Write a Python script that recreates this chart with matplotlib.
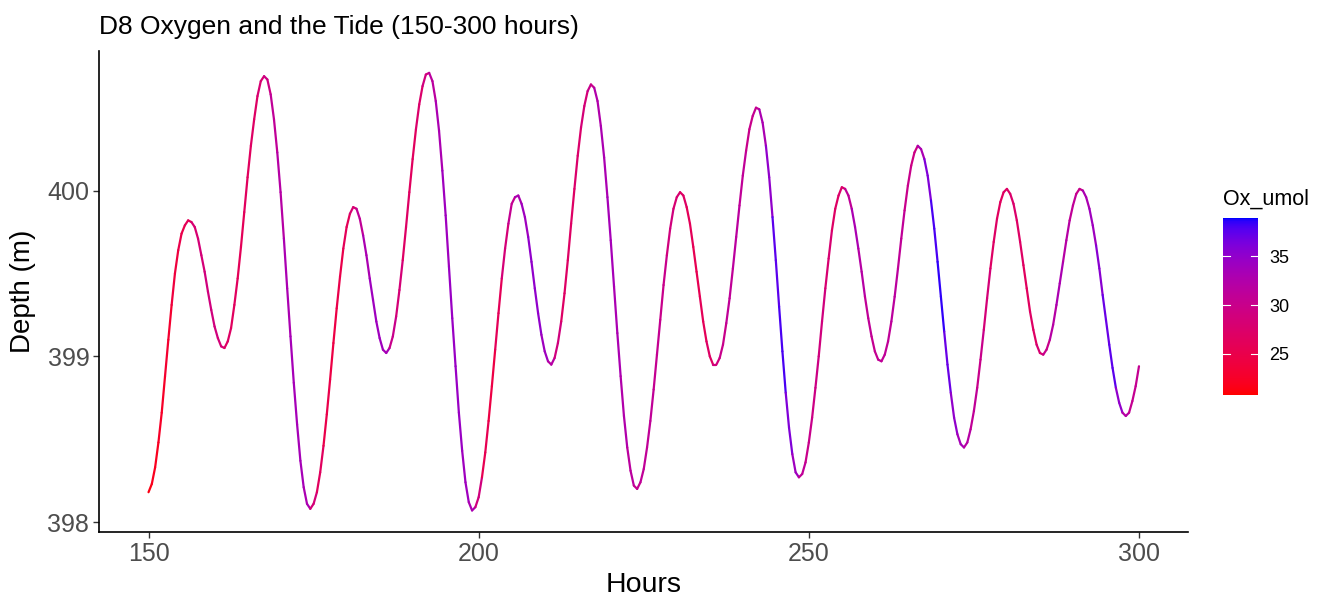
import matplotlib
matplotlib.use("Agg")
import matplotlib.pyplot as plt
import numpy as np
from matplotlib.collections import LineCollection
from matplotlib.colors import ListedColormap, Normalize
from matplotlib.cm import ScalarMappable

plt.rcParams['font.family'] = ['Liberation Sans', 'DejaVu Sans']

# DATA

# depth every half hour, 150.0 ... 300.0 (two values per row: h, h+0.5)
hours = [150 + 0.5 * i for i in range(301)]

depth_m = [
    398.18, 398.23,  398.33, 398.48,  398.66, 398.88,  399.10, 399.31,  # 150-153
    399.50, 399.64,  399.74, 399.79,  399.82, 399.81,  399.78, 399.71,  # 154-157
    399.61, 399.51,  399.39, 399.28,  399.18, 399.11,  399.06, 399.05,  # 158-161
    399.09, 399.17,  399.31, 399.47,  399.66, 399.87,  400.08, 400.27,  # 162-165
    400.43, 400.57,  400.66, 400.69,  400.67, 400.58,  400.43, 400.23,  # 166-169
    399.99, 399.71,  399.41, 399.12,  398.84, 398.59,  398.37, 398.21,  # 170-173
    398.11, 398.08,  398.11, 398.18,  398.30, 398.46,  398.65, 398.86,  # 174-177
    399.08, 399.29,  399.48, 399.65,  399.78, 399.86,  399.90, 399.89,  # 178-181
    399.83, 399.73,  399.61, 399.47,  399.34, 399.21,  399.11, 399.04,  # 182-185
    399.02, 399.05,  399.12, 399.24,  399.40, 399.58,  399.78, 399.99,  # 186-189
    400.19, 400.37,  400.52, 400.63,  400.70, 400.71,  400.66, 400.54,  # 190-193
    400.36, 400.12,  399.85, 399.54,  399.23, 398.94,  398.66, 398.43,  # 194-197
    398.24, 398.12,  398.07, 398.09,  398.15, 398.27,  398.42, 398.61,  # 198-201
    398.82, 399.04,  399.26, 399.47,  399.65, 399.80,  399.92, 399.96,  # 202-205
    399.97, 399.92,  399.84, 399.72,  399.57, 399.41,  399.26, 399.13,  # 206-209
    399.03, 398.97,  398.95, 398.99,  399.08, 399.21,  399.38, 399.58,  # 210-213
    399.80, 400.01,  400.21, 400.38,  400.51, 400.60,  400.64, 400.62,  # 214-217
    400.54, 400.39,  400.20, 399.96,  399.70, 399.42,  399.14, 398.88,  # 218-221
    398.64, 398.45,  398.31, 398.22,  398.20, 398.24,  398.32, 398.45,  # 222-225
    398.61, 398.80,  399.01, 399.22,  399.43, 399.61,  399.77, 399.89,  # 226-229
    399.96, 399.99,  399.97, 399.90,  399.80, 399.66,  399.51, 399.36,  # 230-233
    399.21, 399.09,  399.00, 398.95,  398.95, 398.99,  399.07, 399.20,  # 234-237
    399.35, 399.53,  399.72, 399.91,  400.09, 400.24,  400.37, 400.45,  # 238-241
    400.50, 400.49,  400.41, 400.27,  400.08, 399.84,  399.58, 399.30,  # 242-245
    399.03, 398.78,  398.57, 398.41,  398.30, 398.27,  398.29, 398.36,  # 246-249
    398.48, 398.63,  398.81, 399.00,  399.21, 399.41,  399.59, 399.76,  # 250-253
    399.89, 399.97,  400.02, 400.01,  399.97, 399.89,  399.78, 399.65,  # 254-257
    399.51, 399.36,  399.23, 399.12,  399.03, 398.98,  398.97, 399.01,  # 258-261
    399.09, 399.21,  399.36, 399.53,  399.71, 399.88,  400.03, 400.15,  # 262-265
    400.23, 400.27,  400.25, 400.19,  400.09, 399.94,  399.77, 399.57,  # 266-269
    399.36, 399.15,  398.95, 398.78,  398.63, 398.53,  398.47, 398.45,  # 270-273
    398.48, 398.56,  398.67, 398.81,  398.98, 399.16,  399.35, 399.53,  # 274-277
    399.69, 399.83,  399.93, 399.99,  400.01, 399.98,  399.92, 399.82,  # 278-281
    399.69, 399.55,  399.41, 399.27,  399.16, 399.07,  399.02, 399.01,  # 282-285
    399.04, 399.10,  399.19, 399.31,  399.44, 399.57,  399.70, 399.82,  # 286-289
    399.91, 399.98,  400.01, 400.00,  399.96, 399.89,  399.79, 399.67,  # 290-293
    399.53, 399.37,  399.22, 399.07,  398.93, 398.81,  398.72, 398.66,  # 294-297
    398.64, 398.66,  398.73, 398.82,  398.94,                           # 298-300
]

# oxygen, one value per hour 150 ... 300
ox_hours = list(range(150, 301))
ox_umol = [
    21.5, 22.0, 22.5, 23.0, 24.0, 25.0, 26.0,          # 150-156
    28.0, 28.5, 29.0, 29.0, 28.5,                      # 157-161
    27.0, 26.5, 26.0, 26.5, 27.0, 28.0,                # 162-167
    29.5, 31.0, 32.0, 33.0, 33.5, 33.5, 33.0,          # 168-174
    28.5, 26.5, 25.0, 24.5, 25.0, 26.0, 28.0,          # 175-181
    31.0, 33.0, 34.0, 34.0, 33.5,                      # 182-186
    30.0, 28.5, 27.0, 26.5, 27.5, 29.0,                # 187-192
    31.5, 33.0, 34.0, 34.5, 34.5, 34.0, 33.0,          # 193-199
    29.0, 25.5, 24.5, 26.0, 28.5, 30.5,                # 200-205
    33.0, 34.0, 35.0, 35.0, 34.0,                      # 206-210
    32.0, 29.0, 27.0, 27.0, 27.5, 28.5, 30.0,          # 211-217
    32.5, 33.0, 33.5, 33.0, 32.5, 31.5, 30.5,          # 218-224
    31.0, 31.0, 30.5, 30.0, 29.0, 28.0,                # 225-230
    27.0, 26.0, 25.5, 26.0, 27.0, 29.0,                # 231-236
    30.0, 31.0, 31.5, 31.0, 30.0, 30.5,                # 237-242
    33.0, 35.0, 37.5, 38.0, 36.0, 34.0,                # 243-248
    31.0, 30.0, 29.5, 29.0, 28.0, 27.0, 27.5,          # 249-255
    31.0, 33.0, 32.0, 31.0, 30.5, 31.0,                # 256-261
    31.0, 31.5, 31.0, 30.0, 29.5,                      # 262-266
    33.0, 36.0, 38.0, 38.5, 37.0, 35.0, 33.5,          # 267-273
    32.0, 31.0, 30.0, 28.5, 27.0, 26.5, 27.0,          # 274-280
    27.5, 27.0, 26.5, 27.0, 28.0,                      # 281-285
    30.0, 32.0, 33.0, 32.0, 31.0, 30.0,                # 286-291
    33.0, 34.0, 35.5, 37.0, 37.5, 35.0, 32.0,          # 292-298
    30.5, 30.5,                                        # 299-300
]

ox_limits = (20.8, 38.9)
ox_ticks = [25, 30, 35]
x_ticks = [150, 200, 250, 300]
y_ticks = [398, 399, 400]

# red -> blue gradient interpolated in Lab, like ggplot's scale_colour_gradient

M = np.array([[0.4124, 0.3576, 0.1805],
              [0.2126, 0.7152, 0.0722],
              [0.0193, 0.1192, 0.9505]])
WHITE = np.array([0.95047, 1.0, 1.08883])


def to_lab(rgb):
    c = np.asarray(rgb, float)
    lin = np.where(c <= 0.04045, c / 12.92, ((c + 0.055) / 1.055) ** 2.4)
    xyz = M @ lin / WHITE
    f = np.where(xyz > 0.008856, np.cbrt(xyz), 7.787 * xyz + 16 / 116)
    return np.array([116 * f[1] - 16, 500 * (f[0] - f[1]), 200 * (f[1] - f[2])])


def from_lab(lab):
    L, a, b = lab
    fy = (L + 16) / 116
    f = np.array([fy + a / 500, fy, fy - b / 200])
    xyz = np.where(f ** 3 > 0.008856, f ** 3, (f - 16 / 116) / 7.787) * WHITE
    lin = np.clip(np.linalg.solve(M, xyz), 0, 1)
    c = np.where(lin <= 0.0031308, 12.92 * lin, 1.055 * lin ** (1 / 2.4) - 0.055)
    return np.clip(c, 0, 1)


lo, hi = to_lab([1, 0, 0]), to_lab([0, 0, 1])
cmap = ListedColormap([from_lab(lo + (hi - lo) * t) for t in np.linspace(0, 1, 256)])
norm = Normalize(*ox_limits)

# PLOT

W, H = 1327, 597
fig = plt.figure(figsize=(W / 100, H / 100), dpi=100)
ax = fig.add_axes([99 / W, 1 - 532 / H, (1188.5 - 99) / W, (532 - 50.5) / H])

pts = np.column_stack([hours, depth_m])
segs = np.stack([pts[:-1], pts[1:]], axis=1)
# each segment takes the oxygen reading of the nearest hour
mid = (pts[:-1, 0] + pts[1:, 0]) / 2
idx = np.clip(np.round(mid).astype(int) - ox_hours[0], 0, len(ox_umol) - 1)
lc = LineCollection(segs, cmap=cmap, norm=norm, linewidths=1.6,
                    capstyle='round', joinstyle='round')
lc.set_array(np.array(ox_umol)[idx])
ax.add_collection(lc)

ax.set_xlim(142.5, 307.5)
ax.set_ylim(397.94, 400.845)
ax.set_xticks(x_ticks)
ax.set_yticks(y_ticks)
for s in ['top', 'right']:
    ax.spines[s].set_visible(False)
for s in ['left', 'bottom']:
    ax.spines[s].set_linewidth(1.2)
    ax.spines[s].set_color('black')
ax.tick_params(direction='out', length=4, width=1.0, color='#333333',
               labelsize=18, labelcolor='#4D4D4D', pad=3)

fig.text(99 / W, 1 - 34 / H, "D8 Oxygen and the Tide (150-300 hours)",
         fontsize=19, ha='left', va='baseline')
fig.text(644 / W, 1 - 592 / H, "Hours", fontsize=20.5, ha='center', va='baseline')
fig.text(10 / W, 1 - 291 / H, "Depth (m)", fontsize=20, rotation=90,
         ha='left', va='center')

# colour bar
cax = fig.add_axes([1223 / W, 1 - 395 / H, 35 / W, 177 / H])
cb = fig.colorbar(ScalarMappable(norm=norm, cmap=cmap), cax=cax)
cb.outline.set_visible(False)
cb.set_ticks(ox_ticks)
cax.tick_params(length=0, labelsize=13, pad=8)
tr = cax.get_yaxis_transform()
for t in ox_ticks:
    cax.plot([0, 0.2], [t, t], color='white', lw=0.8, transform=tr)
    cax.plot([0.8, 1], [t, t], color='white', lw=0.8, transform=tr)
fig.text(1223 / W, 1 - 205 / H, "Ox_umol", fontsize=15.5, ha='left', va='baseline')

plt.savefig("out.png", dpi=100)
